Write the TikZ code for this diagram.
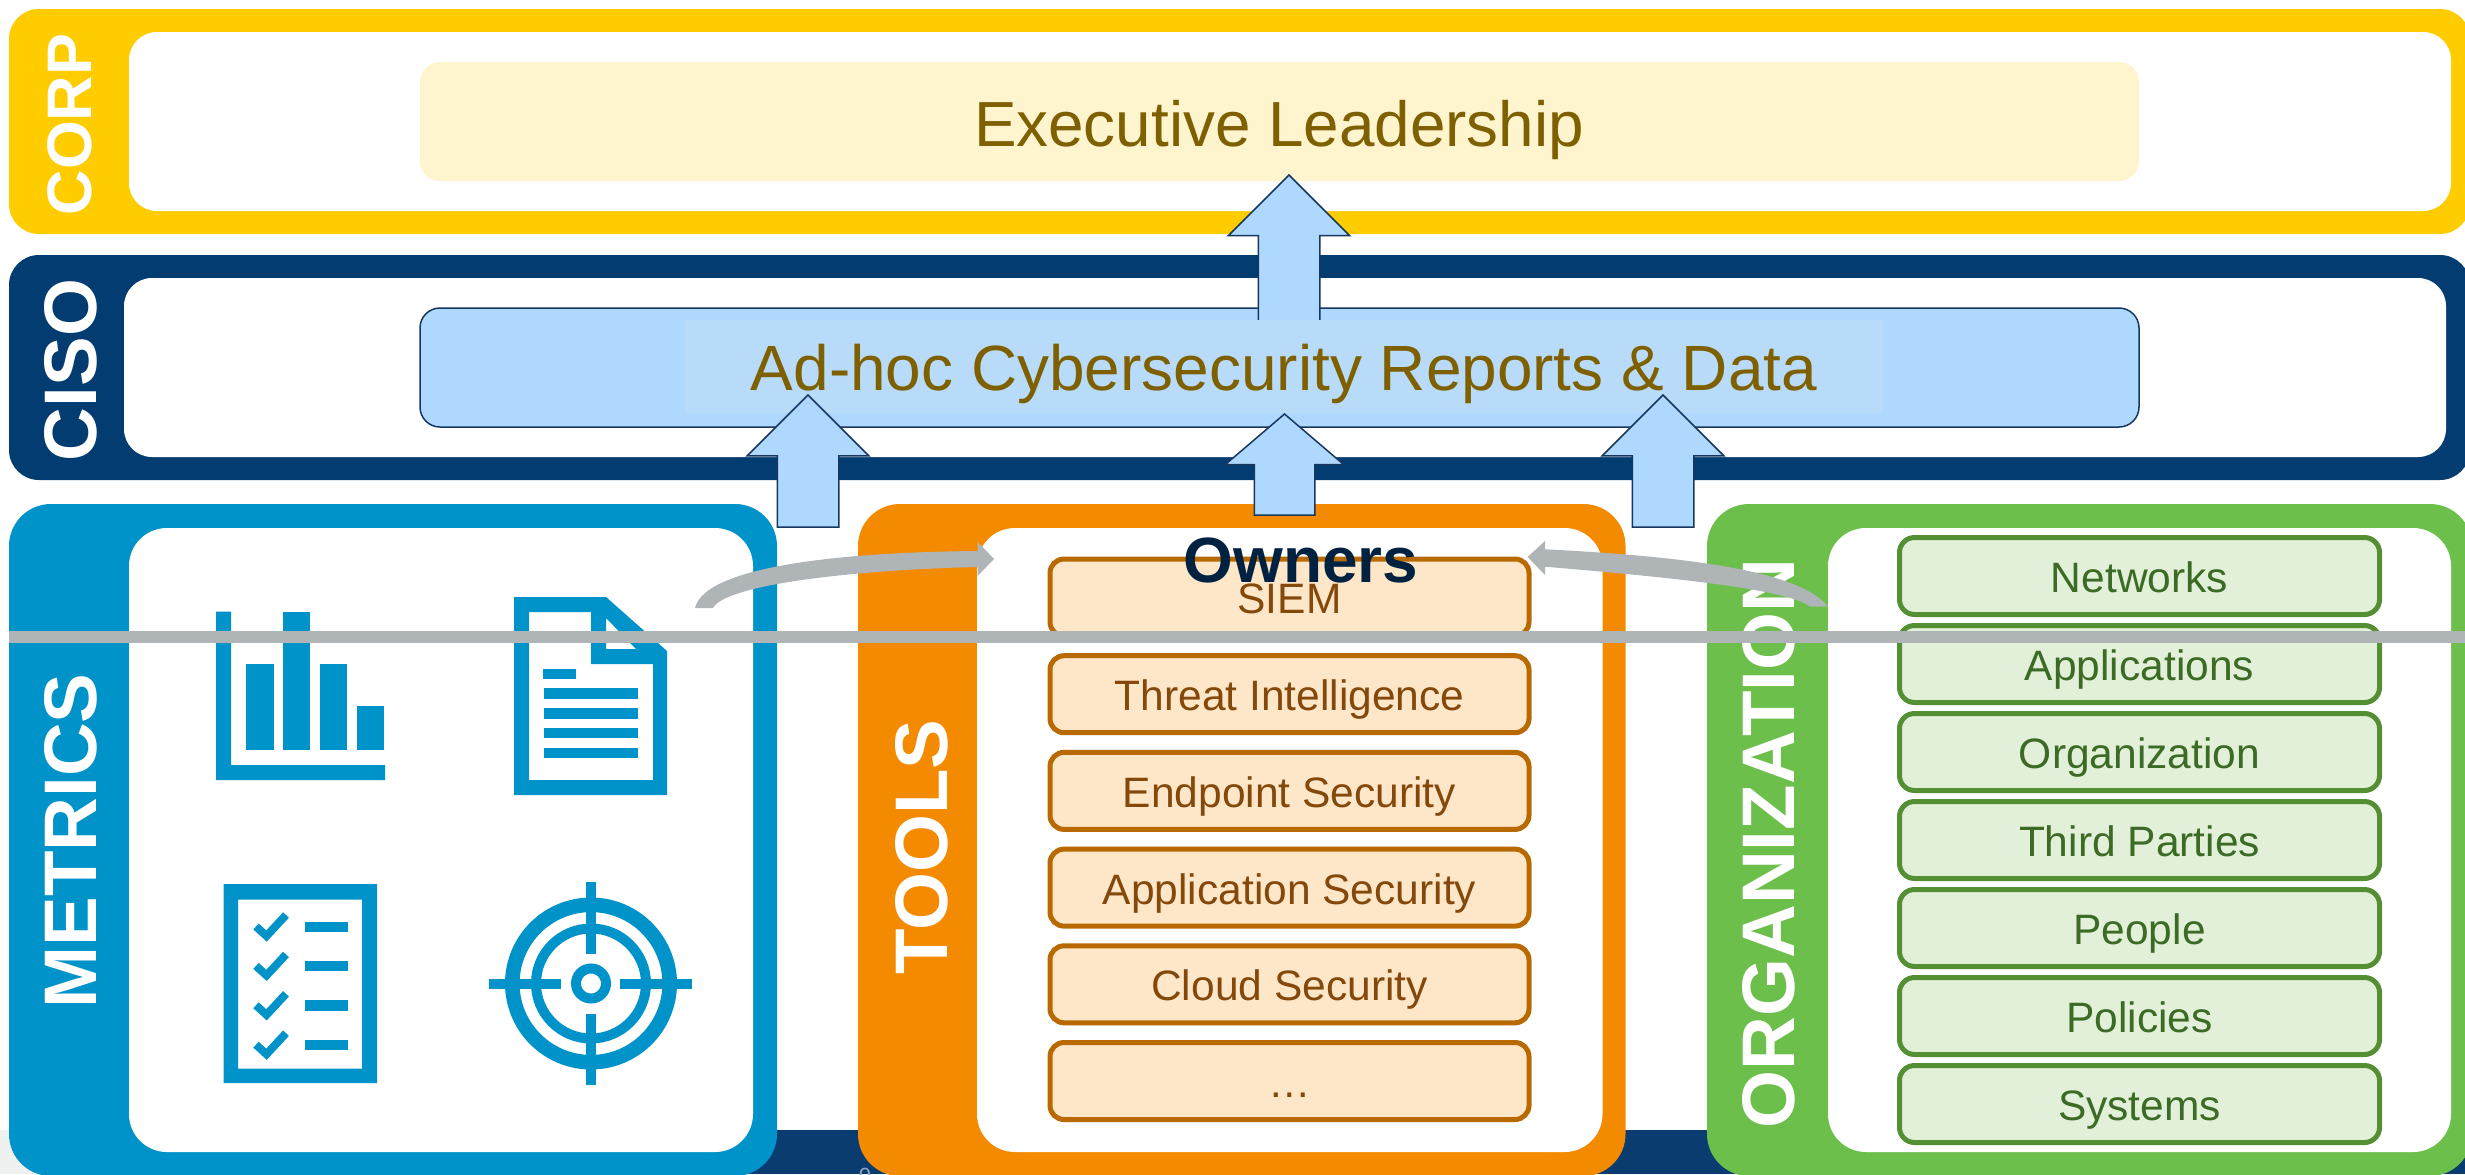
\documentclass[tikz,border=0pt]{standalone}
\usepackage{fontspec}
\setmainfont{Liberation Sans}
\usetikzlibrary{shapes.arrows}
\definecolor{corpY}{HTML}{FFCC00}
\definecolor{cisoN}{HTML}{023C70}
\definecolor{footN}{HTML}{0A3C70}
\definecolor{footG}{HTML}{EFF1F1}
\definecolor{metB}{HTML}{0093C9}
\definecolor{toolO}{HTML}{F48A00}
\definecolor{orgG}{HTML}{6CBF4B}
\definecolor{lineG}{HTML}{AFB4B7}
\definecolor{execF}{HTML}{FEF4CD}
\definecolor{execT}{HTML}{7F6000}
\definecolor{repF}{HTML}{AFD8FF}
\definecolor{repI}{HTML}{B7DBF8}
\definecolor{repL}{HTML}{17375E}
\definecolor{toolF}{HTML}{FEE6C8}
\definecolor{toolL}{HTML}{B86A00}
\definecolor{toolT}{HTML}{84480A}
\definecolor{orgF}{HTML}{E2F0D9}
\definecolor{orgL}{HTML}{548F33}
\definecolor{orgT}{HTML}{3B6B24}
\definecolor{ownT}{HTML}{00213F}
\definecolor{pageT}{HTML}{8FA5BC}
\newcommand{\fs}[1]{\fontsize{#1}{#1}\selectfont}
\tikzset{
  wh/.style 2 args={minimum width=#1*0.02cm,minimum height=#2*0.02cm},
  lw/.style={line width=#1*0.02cm},
  flat/.style={rectangle,inner sep=0pt,outer sep=0pt,anchor=north west},
  bandupper/.style={flat,rounded corners=0.6cm},
  bandlower/.style={flat,rounded corners=0.84cm},
  innerupper/.style={flat,fill=white,rounded corners=0.56cm},
  innerlower/.style={flat,fill=white,rounded corners=0.76cm},
  sidelabel/.style={rotate=90,text=white,inner sep=0pt,outer sep=0pt,font=\fs{42.4}\bfseries,text height=30.4pt,text depth=0pt,anchor=center},
  toolbox/.style={rectangle,inner sep=0pt,outer sep=0pt,wh={479}{77},rounded corners=0.28cm,draw=toolL,fill=toolF,lw=5,text=toolT,font=\fs{24.2},text height=18.7pt,text depth=0pt},
  orgbox/.style={rectangle,inner sep=0pt,outer sep=0pt,wh={480}{77},rounded corners=0.3cm,draw=orgL,fill=orgF,lw=5,text=orgT,font=\fs{24.2},text height=18.7pt,text depth=0pt},
  blockup/.style={single arrow,shape border rotate=90,anchor=tip,inner sep=0.6cm,outer sep=0pt,draw=repL,fill=repF,lw=1.5},
  grayarrow/.style={fill=lineG,draw=none},
  icon/.style={fill=metB,draw=none},
  iconline/.style={draw=metB},
}
\begin{document}
\begin{tikzpicture}[x=0.02cm,y=-0.02cm]
\useasboundingbox (0,0) rectangle (2465,1174);
% footer behind the panels
\fill[footG] (0,1130) rectangle (400,1174);
\fill[footN] (400,1130) rectangle (2465,1174);
\node[text=pageT,font=\fs{12.5},inner sep=0pt] (pagenum) at (865,1176) {0};
% CORP
\node[bandupper,fill=corpY,wh={2461}{225}] (corpband) at (9,9) {};
\node[innerupper,wh={2322}{179}] (corpinner) at (129,32) {};
\node[sidelabel,font=\fs{35.8}\bfseries,text height=25.6pt] (corplabel) at (69.5,124.5) {CORP};
\node[flat,fill=execF,wh={1719}{119},rounded corners=0.4cm] (exec) at (420,62) {};
\node[text=execT,font=\fs{36.3},inner sep=0pt] (exectext) at (1279,130) {Executive Leadership};
% CISO
\node[bandupper,fill=cisoN,wh={2461}{225}] (cisoband) at (9,255) {};
\node[innerupper,wh={2322}{179}] (cisoinner) at (124,278) {};
\node[sidelabel] (cisolabel) at (69.5,370) {CISO};
\node[flat,fill=repF,draw=repL,lw=1.5,wh={1719}{119},rounded corners=0.4cm] (reports) at (420,308) {};
% lower panels
\node[bandlower,fill=metB,wh={768}{672}] (metband) at (9,504) {};
\node[innerlower,wh={624}{624}] (metinner) at (129,528) {};
\node[sidelabel] (metlabel) at (70,841) {METRICS};
\node[bandlower,fill=toolO,wh={767.5}{672}] (toolband) at (858,504) {};
\node[innerlower,wh={625.5}{624}] (toolinner) at (977,528) {};
\node[sidelabel] (toollabel) at (921,847) {TOOLS};
\node[bandlower,fill=orgG,wh={765}{672}] (orgband) at (1707,504) {};
\node[innerlower,wh={623}{624}] (orginner) at (1828,528) {};
\node[sidelabel] (orglabel) at (1768,843.5) {ORGANIZATION};
% top arrow, then the lighter text panel over its foot
\node[blockup,wh={120}{147},single arrow head extend=0.6cm,single arrow tip angle=90] (uptop) at (1289,175) {};
\node[flat,fill=repI,wh={1198}{93}] (repinner) at (685,320) {};
\node[text=execT,font=\fs{36.4},inner sep=0pt] (reptext) at (1284,374) {Ad-hoc Cybersecurity Reports \& Data};
% up arrows
\node[blockup,wh={120}{132},single arrow head extend=0.6cm,single arrow tip angle=90] (upleft) at (808,395) {};
\node[blockup,wh={117}{101},inner sep=0.59cm,single arrow head extend=0.58cm,single arrow tip angle=99] (upmid) at (1284.5,414) {};
\node[blockup,wh={120}{132},single arrow head extend=0.6cm,single arrow tip angle=90] (upright) at (1663,395) {};
% tools boxes
\node[toolbox] (siem) at (1289.5,597.5) {SIEM};
\node[toolbox] (threat) at (1289.5,694.2) {Threat Intelligence};
\node[toolbox] (endpoint) at (1289.5,790.9) {Endpoint Security};
\node[toolbox] (appsec) at (1289.5,887.6) {Application Security};
\node[toolbox] (cloud) at (1289.5,984.3) {Cloud Security};
\node[toolbox] (more) at (1289.5,1081) {…};
% organization boxes
\node[orgbox] (networks) at (2139.5,576) {Networks};
\node[orgbox] (applications) at (2139.5,664) {Applications};
\node[orgbox] (organization) at (2139.5,752) {Organization};
\node[orgbox] (third) at (2139.5,840) {Third Parties};
\node[orgbox] (people) at (2139.5,928) {People};
\node[orgbox] (policies) at (2139.5,1016) {Policies};
\node[orgbox] (systems) at (2139.5,1104) {Systems};
% bar chart icon
\fill[icon] (216,611.5) -- (231,611.5) -- (231,765) -- (385,765) -- (385,780) -- (216,780) -- cycle;
\fill[icon] (246,664) rectangle (274,750);
\fill[icon] (283,611.5) rectangle (310,750);
\fill[icon] (320,664) rectangle (347,750);
\fill[icon] (357,706) rectangle (384,750);
% document icon
\fill[icon,even odd rule] (514,597) -- (606,597) -- (667,651) -- (667,795) -- (514,795) -- cycle
  (529,612) -- (591,612) -- (591,664) -- (653,664) -- (653,780) -- (529,780) -- cycle
  (606,618) -- (636,649) -- (606,649) -- cycle;
\fill[icon] (543,669) rectangle (576,679);
\fill[icon] (544,688) rectangle (638,699);
\fill[icon] (544,708) rectangle (638,718.5);
\fill[icon] (544,728) rectangle (638,738);
\fill[icon] (544,748) rectangle (638,758);
% checklist icon
\fill[icon,even odd rule] (223.5,884) rectangle (377,1083) (238,899.5) rectangle (362,1068.5);
\foreach \dy in {0,39.4,78.8,118.2}{
  \draw[iconline,lw=8] (256,926.5+\dy) -- (266.5,936+\dy) -- (286,915+\dy);
  \fill[icon] (305,921.6+\dy) rectangle (348,932+\dy);
}
% target icon
\draw[iconline,lw=14.6] (591,983.5) circle[radius=78.7];
\draw[iconline,lw=10] (591,983.5) circle[radius=55];
\draw[iconline,lw=10] (591,983.5) circle[radius=15];
\fill[icon] (489,978.5) rectangle (561,988.5);
\fill[icon] (620,978.5) rectangle (692,988.5);
\fill[icon] (586,882) rectangle (596,954);
\fill[icon] (586,1013.6) rectangle (596,1085);
% grey connectors
\coordinate (ltail) at (695,608);
\coordinate (rtail) at (1828,606.7);
\fill[grayarrow] (ltail) .. controls (705,565) and (850,552) .. (977.5,551) -- (977.5,541.7) -- (994,559) -- (977.5,576) -- (977.5,567) .. controls (850,570) and (725,585) .. (713,608) -- cycle;
\fill[grayarrow] (rtail) .. controls (1800,570) and (1680,556) .. (1545,549.3) -- (1545,541) -- (1527.6,557) -- (1545,575) -- (1545,566.7) .. controls (1680,578) and (1790,590) .. (1810,606.7) -- cycle;
\coordinate (rulestart) at (9,637);
\coordinate (ruleend) at (2465,637);
\draw[draw=lineG,lw=12.5] (rulestart) -- (ruleend);
\node[text=ownT,font=\fs{36.4}\bfseries,inner sep=0pt,text height=26pt,text depth=0pt] (owners) at (1301,560) {Owners};
\end{tikzpicture}
\end{document}
